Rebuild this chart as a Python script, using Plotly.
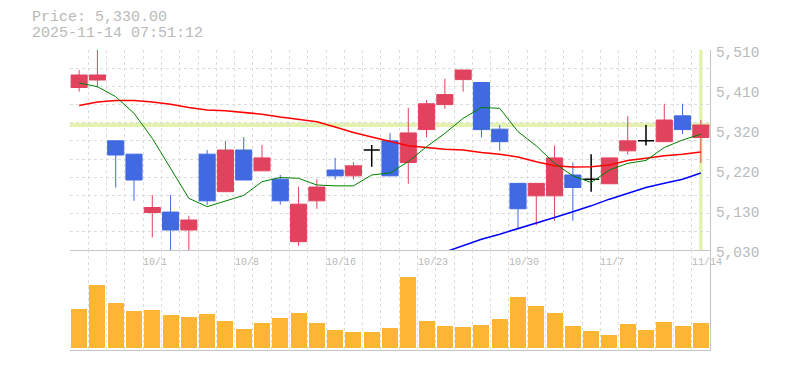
import plotly.graph_objects as go

# ---------------- data ----------------
dates = ["9/25", "9/26", "9/29", "9/30", "10/1", "10/2", "10/3", "10/6", "10/7", "10/8",
         "10/9", "10/10", "10/14", "10/15", "10/16", "10/17", "10/20", "10/21", "10/22", "10/23",
         "10/24", "10/27", "10/28", "10/29", "10/30", "10/31", "11/4", "11/5", "11/6", "11/7",
         "11/10", "11/11", "11/12", "11/13", "11/14"]

opens = [5420, 5438, 5292, 5260, 5120, 5121, 5078, 5260, 5170, 5270,
         5220, 5200, 5050, 5148, 5222, 5208, 5270, 5292, 5240, 5319,
         5379, 5439, 5432, 5320, 5190, 5160, 5160, 5210, 5200, 5189,
         5268, 5292, 5290, 5352, 5300]
highs = [5462, 5515, 5292, 5260, 5162, 5162, 5112, 5270, 5292, 5301,
         5282, 5210, 5182, 5200, 5251, 5241, 5282, 5311, 5371, 5390,
         5441, 5462, 5432, 5330, 5190, 5190, 5281, 5240, 5260, 5251,
         5351, 5330, 5381, 5381, 5342]
lows = [5410, 5420, 5180, 5148, 5060, 5030, 5030, 5138, 5170, 5198,
        5220, 5139, 5040, 5129, 5199, 5199, 5230, 5208, 5189, 5300,
        5369, 5410, 5300, 5268, 5080, 5089, 5100, 5100, 5170, 5189,
        5259, 5281, 5290, 5308, 5239]
closes = [5450, 5450, 5258, 5198, 5132, 5078, 5102, 5148, 5270, 5198,
          5251, 5148, 5140, 5181, 5208, 5232, 5270, 5208, 5311, 5381,
          5403, 5462, 5319, 5290, 5129, 5190, 5251, 5180, 5200, 5251,
          5292, 5292, 5342, 5319, 5330]

ma_short = [5431, 5422, 5398, 5358, 5298, 5226, 5154, 5134, 5148, 5161,
            5194, 5204, 5202, 5186, 5184, 5184, 5210, 5215, 5242, 5278,
            5310, 5346, 5372, 5370, 5314, 5280, 5238, 5208, 5192, 5222,
            5238, 5245, 5276, 5294, 5308]
ma_mid = [5377, 5385, 5389, 5389, 5385, 5380, 5372, 5366, 5364, 5360,
          5356, 5349, 5344, 5338, 5325, 5312, 5301, 5290, 5280, 5276,
          5272, 5270, 5264, 5260, 5253, 5242, 5232, 5229, 5230, 5234,
          5245, 5250, 5256, 5260, 5265]
ma_long = [None, None, None, None, None, None, None, None, None, None,
           None, None, None, None, None, None, None, None, None, None,
           5025, 5040, 5056, 5068, 5081, 5094, 5108, 5122, 5136, 5152,
           5166, 5180, 5190, 5200, 5215]

volumes = [11700, 18900, 13500, 11100, 11400, 9900, 9300, 10200, 8100, 5600,
           7500, 9000, 10500, 7500, 5400, 4800, 4800, 6000, 21300, 8100,
           6600, 6300, 6900, 8700, 15300, 12600, 10500, 6600, 5100, 3900,
           7200, 5400, 7800, 6600, 7500]

price_ticks = [5030, 5126, 5222, 5318, 5414, 5510]
price_tick_text = ["5,030", "5,130", "5,220", "5,320", "5,410", "5,510"]
date_labels = ["10/1", "10/8", "10/16", "10/23", "10/30", "11/7", "11/14"]
header_price = "Price: 5,330.00"
header_time = "2025-11-14 07:51:12"

# ---------------- styles ----------------
UP = "#e1435f"
DOWN = "#4169e1"
DOJI = "#000000"
VOL = "#fcb634"
GRID = "#dcdcdc"
AXIS = "#c4c4c4"
TEXT = "#b9b9b9"
CUR = "#e2f3b0"
FONT = "Liberation Mono"

n = len(dates)
x = list(range(n))
y_lo, y_hi = price_ticks[0], price_ticks[-1]
grid_y = [y_lo + k * (y_hi - y_lo) / 11 for k in range(12)]
grid_x = [i - 0.5 for i in range(n + 1)]

fig = go.Figure()

# moving averages (under candles)
for vals, col, w in [(ma_mid, "#ff0000", 1.5), (ma_long, "#0000ff", 1.5), (ma_short, "#008000", 1)]:
    fig.add_trace(go.Scatter(x=x, y=vals, mode="lines", line=dict(color=col, width=w),
                             xaxis="x", yaxis="y", hoverinfo="skip", connectgaps=False))


def candle(idx, color, lw):
    return go.Candlestick(
        x=[x[i] for i in idx], open=[opens[i] for i in idx], high=[highs[i] for i in idx],
        low=[lows[i] for i in idx], close=[closes[i] for i in idx],
        increasing=dict(line=dict(color=color, width=lw), fillcolor=color),
        decreasing=dict(line=dict(color=color, width=lw), fillcolor=color),
        whiskerwidth=0, xaxis="x", yaxis="y", hoverinfo="skip")


up = [i for i in x if closes[i] > opens[i]]
dn = [i for i in x if closes[i] < opens[i]]
dj = [i for i in x if closes[i] == opens[i]]
fig.add_trace(candle(up, UP, 1))
fig.add_trace(candle(dn, DOWN, 1))
fig.add_trace(candle(dj, DOJI, 1.5))

fig.add_trace(go.Bar(x=x, y=volumes, marker=dict(color=VOL, line=dict(width=0)), width=0.875,
                     xaxis="x2", yaxis="y2", hoverinfo="skip"))

# current price markers
fig.add_shape(type="line", xref="x", x0=-0.5, x1=n - 0.5, yref="y", y0=closes[-1], y1=closes[-1],
              line=dict(color=CUR, width=4), layer="below")
fig.add_shape(type="line", xref="x", x0=x[-1], x1=x[-1], yref="y", y0=y_lo, y1=y_hi,
              line=dict(color=CUR, width=3.5), layer="below")

xcommon = dict(range=[-0.5, n - 0.5], showgrid=False, zeroline=False, showticklabels=False,
               ticks="", tickmode="array", tickvals=[], showline=True, linecolor=AXIS, linewidth=1,
               minor=dict(tickmode="array", tickvals=grid_x, showgrid=True, gridcolor=GRID,
                          griddash="3px,3px", gridwidth=1, ticks=""))

# the page body adds an 8px margin, so the figure is 8px smaller on each axis
fig.update_layout(
    width=777, height=362,
    margin=dict(l=62, r=75, t=42, b=20, autoexpand=False),
    paper_bgcolor="white", plot_bgcolor="white",
    showlegend=False, hovermode=False,
    boxgap=0.12, boxgroupgap=0, boxmode="overlay",
    bargap=0,
    xaxis=dict(domain=[0, 1], anchor="y", rangeslider=dict(visible=False), **xcommon),
    xaxis2=dict(domain=[0, 1], anchor="y2", **xcommon),
    yaxis=dict(domain=[1 / 3, 1], range=[y_lo, y_hi], side="right", anchor="x",
               tickmode="array", tickvals=price_ticks, ticktext=price_tick_text,
               showgrid=False, zeroline=False, showline=True, linecolor=AXIS, linewidth=1,
               ticks="", ticklabelstandoff=2, ticklabelshift=2,
               tickfont=dict(family=FONT, size=14.5, color=TEXT),
               minor=dict(tickmode="array", tickvals=grid_y, showgrid=True, gridcolor=GRID,
                          griddash="3px,3px", gridwidth=1, ticks="")),
    yaxis2=dict(domain=[0, 1 / 3], range=[-600, 29400], side="right", anchor="x2",
                showgrid=False, zeroline=False, showticklabels=False, ticks="",
                showline=True, linecolor=AXIS, linewidth=1),
)

annotations = [
    dict(text=header_price, xref="paper", yref="paper", x=(30 - 70) / 640, y=1 + (50 - 18) / 300,
         xanchor="left", yanchor="middle", showarrow=False, font=dict(family=FONT, size=15, color=TEXT)),
    dict(text=header_time, xref="paper", yref="paper", x=(30 - 70) / 640, y=1 + (50 - 33) / 300,
         xanchor="left", yanchor="middle", showarrow=False, font=dict(family=FONT, size=15, color=TEXT)),
]
for lab in date_labels:
    annotations.append(dict(text=lab, xref="x", yref="paper", x=dates.index(lab), y=(350 - 262.5) / 300,
                            xanchor="left", xshift=-11, yanchor="middle", showarrow=False,
                            font=dict(family=FONT, size=10, color=TEXT)))
fig.update_layout(annotations=annotations)

fig.write_html("out.html")
